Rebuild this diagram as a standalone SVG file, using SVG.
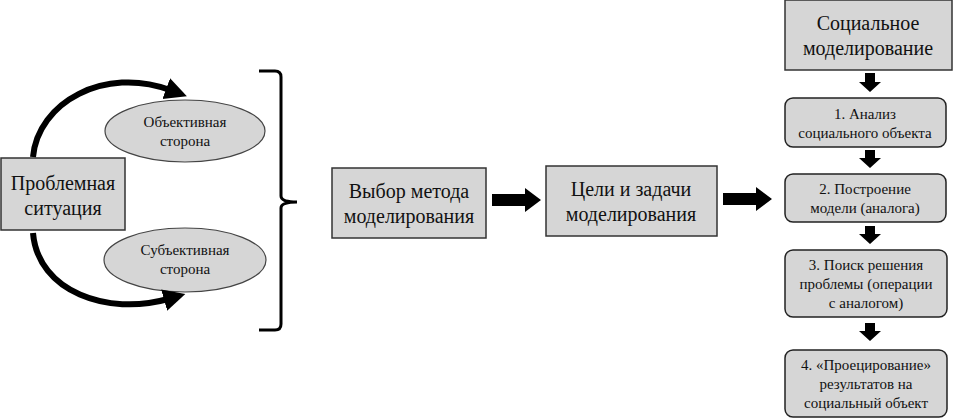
<svg xmlns="http://www.w3.org/2000/svg" width="953" height="420" viewBox="0 0 953 420">
<style>
.box{fill:#d6d6d6;stroke:#333;stroke-width:1.5}
.rbox{fill:#d6d6d6;stroke:#222;stroke-width:1.5}
.ell{fill:#d6d6d6;stroke:#444;stroke-width:1.2}
.t20{font-family:"Liberation Serif","Times New Roman",serif;font-size:20px;fill:#111;text-anchor:middle}
.t15{font-family:"Liberation Serif","Times New Roman",serif;font-size:15px;fill:#111;text-anchor:middle}
.t14{font-family:"Liberation Serif","Times New Roman",serif;font-size:15px;fill:#111;text-anchor:middle}
.blk{fill:#000}
.curve{fill:none;stroke:#000;stroke-width:6}
</style>
<defs>
<marker id="ah" markerUnits="userSpaceOnUse" markerWidth="26" markerHeight="26" refX="4" refY="13" orient="auto" viewBox="0 0 26 26">
<path d="M0 2 L22 13 L0 24 Z" fill="#000"/>
</marker>
</defs>
<g id="n-problem"><rect class="box" x="1" y="158" width="124" height="72"/><text class="t20" x="63" y="190">Проблемная</text><text class="t20" x="63" y="215">ситуация</text></g>
<g id="n-obj"><ellipse class="ell" cx="185" cy="131" rx="80" ry="31"/><text class="t14" x="185" y="127">Объективная</text><text class="t14" x="185" y="146">сторона</text></g>
<g id="n-subj"><ellipse class="ell" cx="185" cy="260" rx="81" ry="32"/><text class="t14" x="185" y="255">Субъективная</text><text class="t14" x="185" y="274">сторона</text></g>
<g id="n-method"><rect class="box" x="332" y="168" width="154" height="70"/><text class="t20" x="409" y="198">Выбор метода</text><text class="t20" x="409" y="223">моделирования</text></g>
<g id="n-goals"><rect class="box" x="546" y="166" width="171" height="70"/><text class="t20" x="631" y="196">Цели и задачи</text><text class="t20" x="631" y="221">моделирования</text></g>
<g id="n-social"><rect class="box" x="785" y="0" width="167" height="70"/><text class="t20" x="868" y="30">Социальное</text><text class="t20" x="868" y="55">моделирование</text></g>
<g id="n-s1"><rect class="rbox" x="785" y="98" width="161" height="49" rx="8"/><text class="t15" x="865" y="119">1. Анализ</text><text class="t15" x="865" y="138">социального объекта</text></g>
<g id="n-s2"><rect class="rbox" x="785" y="174" width="161" height="48" rx="8"/><text class="t15" x="865" y="194">2. Построение</text><text class="t15" x="865" y="213">модели (аналога)</text></g>
<g id="n-s3"><rect class="rbox" x="785" y="250" width="162" height="67" rx="8"/><text class="t15" x="866" y="270">3. Поиск решения</text><text class="t15" x="866" y="289">проблемы (операции</text><text class="t15" x="866" y="308">с аналогом)</text></g>
<g id="n-s4"><rect class="rbox" x="785" y="350" width="162" height="67" rx="8"/><text class="t15" x="866" y="370">4. «Проецирование»</text><text class="t15" x="866" y="389">результатов на</text><text class="t15" x="866" y="408">социальный объект</text></g>
<g id="connectors">
<path class="curve" d="M33 157 C38 102 105 66 170 90" marker-end="url(#ah)"/>
<path class="curve" d="M33 233 C38 292 108 316 168 299" marker-end="url(#ah)"/>
<path d="M259 71 L275 71 Q281 71 281 77 L281 196 Q281 202 297 202 Q281 202 281 208 L281 324 Q281 330 275 330 L259 330" fill="none" stroke="#000" stroke-width="3"/>
<polygon class="blk" points="492,194 525,194 525,188 541,200 525,212 525,206 492,206"/>
<polygon class="blk" points="723,193 756,193 756,187 772,199 756,211 756,205 723,205"/>
<polygon class="blk" points="865,73 875,73 875,82 881,82 870,92 859,82 865,82"/>
<polygon class="blk" points="865,150 875,150 875,158 881,158 870,168 859,158 865,158"/>
<polygon class="blk" points="865,226 875,226 875,234 881,234 870,244 859,234 865,234"/>
<polygon class="blk" points="865,323 875,323 875,331 881,331 870,341 859,331 865,331"/>
</g>
</svg>
